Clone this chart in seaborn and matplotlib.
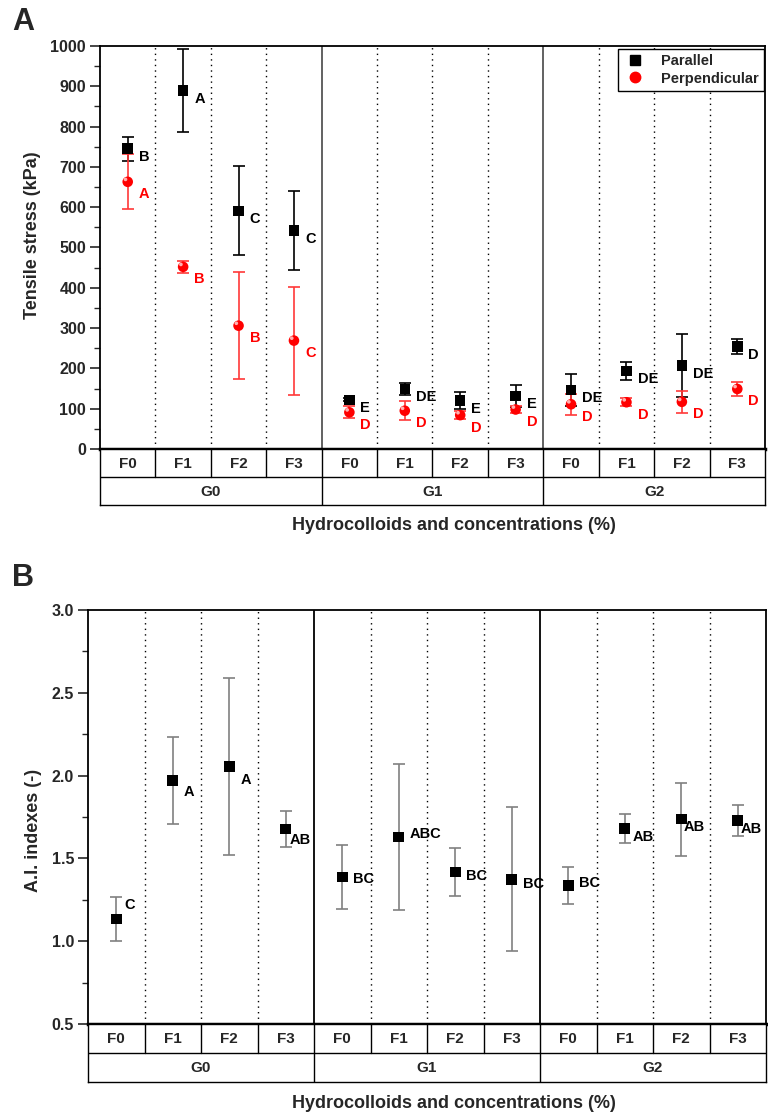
import numpy as np
import pandas as pd
import matplotlib
matplotlib.use('Agg')
import matplotlib.pyplot as plt
import seaborn as sns
from matplotlib.lines import Line2D
from matplotlib.ticker import MultipleLocator

# ---------------- data ----------------
groups = ['G0', 'G1', 'G2']
levels = ['F0', 'F1', 'F2', 'F3']

par_mean = [745, 889, 591, 542, 122, 149, 120, 132, 146, 194, 207, 254]
par_err = [30, 103, 110, 98, 4, 14, 21, 28, 40, 22, 78, 19]
par_letters = ['B', 'A', 'C', 'C', 'E', 'DE', 'E', 'E', 'DE', 'DE', 'DE', 'D']

perp_mean = [663, 452, 306, 269, 91, 95, 84, 98, 111, 116, 117, 149]
perp_err = [68, 15, 132, 134, 15, 23, 10, 8, 26, 10, 28, 18]
perp_letters = ['A', 'B', 'B', 'C', 'D', 'D', 'D', 'D', 'D', 'D', 'D', 'D']

ai_mean = [1.133, 1.97, 2.056, 1.677, 1.387, 1.628, 1.418, 1.373, 1.337, 1.68, 1.737, 1.73]
ai_err = [0.133, 0.265, 0.535, 0.11, 0.195, 0.44, 0.145, 0.435, 0.11, 0.09, 0.22, 0.093]
ai_letters = ['C', 'A', 'A', 'AB', 'BC', 'ABC', 'BC', 'BC', 'BC', 'AB', 'AB', 'AB']

# label offsets (points) for panel B letters
ai_label_off = [(6, 10), (8, -8), (8, -10), (3, -8), (8, -1), (8, 2), (8, -3), (8, -3),
                (8, 2), (6, -6), (2, -6), (2, -6)]

# ---------------- style ----------------
sns.set_style('ticks')
plt.rcParams['font.family'] = ['Liberation Sans', 'DejaVu Sans']
plt.rcParams['font.weight'] = 'bold'

cats = [f'{g}-{f}' for g in groups for f in levels]
pos = np.arange(len(cats))
n = len(cats)

df_a = pd.DataFrame({
    'pos': np.concatenate([pos, pos]),
    'value': par_mean + perp_mean,
    'err': par_err + perp_err,
    'dir': ['Parallel'] * n + ['Perpendicular'] * n,
})
df_b = pd.DataFrame({'pos': pos, 'value': ai_mean, 'err': ai_err})

fig = plt.figure(figsize=(7.68, 11.16), dpi=100)
W, H = 768.0, 1116.0


def add_axes_px(left, top, right, bottom):
    return fig.add_axes([left / W, 1 - bottom / H, (right - left) / W, (bottom - top) / H])


ax1 = add_axes_px(100, 46, 765, 449)
tab1 = add_axes_px(100, 449, 765, 505)
ax2 = add_axes_px(88, 610, 766, 1024)
tab2 = add_axes_px(88, 1024, 766, 1082)


def style_main(ax, sep_color):
    ax.set_xlim(-0.5, n - 0.5)
    ax.set_xticks([])
    for s in ['left', 'right', 'top']:
        ax.spines[s].set_linewidth(1.3)
        ax.spines[s].set_color('black')
    ax.spines['bottom'].set_linewidth(2.5)
    ax.spines['bottom'].set_color('black')
    for i in range(n - 1):
        if (i + 1) % 4 == 0:
            ax.axvline(i + 0.5, color=sep_color, lw=1.3, zorder=1)
        else:
            ax.axvline(i + 0.5, color='black', lw=1.0, ls=(0, (1, 3)), zorder=1)
    ax.tick_params(axis='y', which='major', direction='out', length=7, width=1.2,
                   labelsize=11.5, pad=3)
    ax.tick_params(axis='y', which='minor', direction='out', length=4, width=1.0)


def draw_table(tax):
    tax.set_xlim(-0.5, n - 0.5)
    tax.set_ylim(2, 0)
    tax.set_xticks([])
    tax.set_yticks([])
    for s in tax.spines.values():
        s.set_linewidth(1.0)
        s.set_color('black')
    tax.axhline(1, color='black', lw=1.0)
    for i in range(n - 1):
        if (i + 1) % 4 == 0:
            tax.plot([i + 0.5, i + 0.5], [0, 2], color='black', lw=1.0)
        else:
            tax.plot([i + 0.5, i + 0.5], [0, 1], color='black', lw=1.0)
    for i, c in enumerate(cats):
        tax.text(i, 0.52, c.split('-')[1], ha='center', va='center',
                 fontsize=11, fontweight='bold')
    for gi, g in enumerate(groups):
        tax.text(gi * 4 + 1.5, 1.52, g, ha='center', va='center',
                 fontsize=11, fontweight='bold')


# ---------------- panel A ----------------
style_main(ax1, '#555555')
ax1.set_ylim(0, 1000)
ax1.yaxis.set_minor_locator(MultipleLocator(50))
ax1.set_yticks(np.arange(0, 1001, 100))
ax1.set_yticklabels([str(v) for v in range(0, 1001, 100)], fontweight='bold', fontsize=11.5)

sub_par = df_a[df_a['dir'] == 'Parallel']
sub_perp = df_a[df_a['dir'] == 'Perpendicular']
ax1.errorbar(sub_par['pos'], sub_par['value'], yerr=sub_par['err'], fmt='none',
             ecolor='black', elinewidth=1.2, capsize=4.5, capthick=1.2, zorder=3)
ax1.errorbar(sub_perp['pos'], sub_perp['value'], yerr=sub_perp['err'], fmt='none',
             ecolor='#ff3838', elinewidth=1.2, capsize=4.5, capthick=1.2, zorder=3)
sns.scatterplot(data=df_a, x='pos', y='value', hue='dir', style='dir',
                markers={'Parallel': 's', 'Perpendicular': 'o'},
                palette={'Parallel': 'black', 'Perpendicular': '#ff0000'},
                s=58, edgecolor='none', linewidth=0, legend=False, ax=ax1, zorder=4)
# sphere highlight on red markers
ax1.scatter(sub_perp['pos'] - 0.04, sub_perp['value'] + 6, s=7, color='#ffb0b0',
            edgecolor='none', zorder=5)
ax1.set_xlabel('')
ax1.set_ylabel('')
ax1.set_xlim(-0.5, n - 0.5)

for x, y, t in zip(pos, par_mean, par_letters):
    ax1.annotate(t, (x, y), xytext=(8, -6), textcoords='offset points',
                 ha='left', va='center', fontsize=10.5, fontweight='bold', color='black')
for x, y, t in zip(pos, perp_mean, perp_letters):
    ax1.annotate(t, (x, y), xytext=(8, -9), textcoords='offset points',
                 ha='left', va='center', fontsize=10.5, fontweight='bold', color='#ff0000')

handles = [Line2D([], [], marker='s', color='black', ls='none', markersize=7),
           Line2D([], [], marker='o', color='#ff0000', ls='none', markersize=7.5)]
leg = ax1.legend(handles, ['Parallel', 'Perpendicular'], loc='upper right',
                 bbox_to_anchor=(0.998, 0.993), frameon=True, fancybox=False,
                 edgecolor='black', framealpha=1, borderpad=0.35, labelspacing=0.25,
                 handletextpad=1.0, handlelength=1.6, borderaxespad=0.0,
                 prop={'weight': 'bold', 'size': 10.5})
leg.get_frame().set_linewidth(1.0)

draw_table(tab1)

# ---------------- panel B ----------------
style_main(ax2, 'black')
ax2.set_ylim(0.5, 3.0)
ax2.yaxis.set_minor_locator(MultipleLocator(0.25))
ax2.set_yticks(np.arange(0.5, 3.01, 0.5))
ax2.set_yticklabels([f'{v:.1f}' for v in np.arange(0.5, 3.01, 0.5)], fontweight='bold', fontsize=11.5)

ax2.errorbar(df_b['pos'], df_b['value'], yerr=df_b['err'], fmt='none',
             ecolor='#808080', elinewidth=1.2, capsize=4.5, capthick=1.2, zorder=3)
sns.scatterplot(data=df_b, x='pos', y='value', marker='s', color='black', s=58,
                edgecolor='none', linewidth=0, legend=False, ax=ax2, zorder=4)
ax2.set_xlabel('')
ax2.set_ylabel('')
ax2.set_xlim(-0.5, n - 0.5)

for x, y, t, (dx, dy) in zip(pos, ai_mean, ai_letters, ai_label_off):
    ax2.annotate(t, (x, y), xytext=(dx, dy), textcoords='offset points',
                 ha='left', va='center', fontsize=10.5, fontweight='bold', color='black')

draw_table(tab2)

# ---------------- labels ----------------
fig.text(12 / W, 1 - 22 / H, 'A', fontsize=22, fontweight='bold', ha='left', va='center')
fig.text(12 / W, 1 - 578 / H, 'B', fontsize=22, fontweight='bold', ha='left', va='center')
fig.text(454 / W, 1 - 526 / H, 'Hydrocolloids and concentrations (%)', fontsize=13,
         fontweight='bold', ha='center', va='center')
fig.text(454 / W, 1 - 1103 / H, 'Hydrocolloids and concentrations (%)', fontsize=13,
         fontweight='bold', ha='center', va='center')
fig.text(33 / W, 1 - 235 / H, 'Tensile stress (kPa)', fontsize=13, fontweight='bold',
         rotation=90, ha='center', va='center')
fig.text(33 / W, 1 - 830 / H, 'A.I. indexes (-)', fontsize=13, fontweight='bold',
         rotation=90, ha='center', va='center')

fig.savefig('out.png', dpi=100, facecolor='white')
